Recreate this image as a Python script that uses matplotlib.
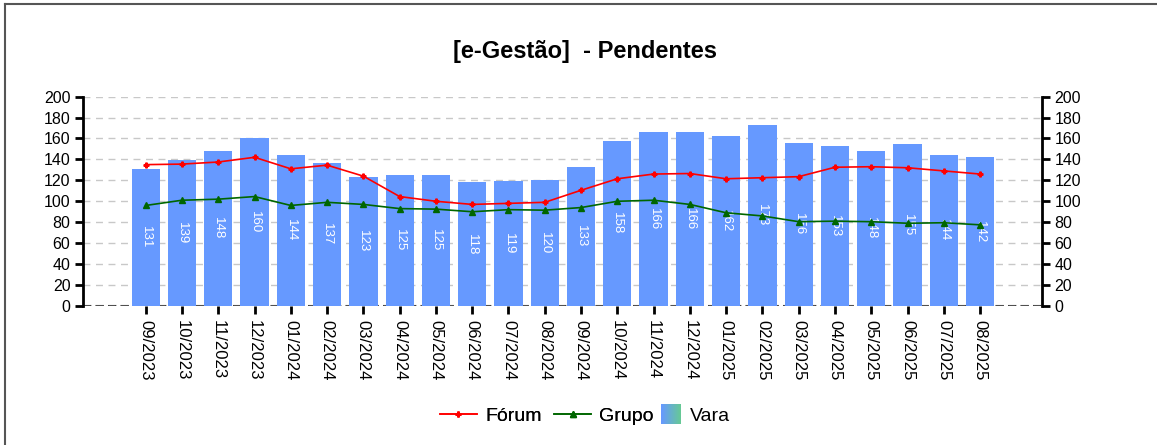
import numpy as np
import matplotlib
matplotlib.use("Agg")
import matplotlib.pyplot as plt
from matplotlib.legend_handler import HandlerBase
from matplotlib.patches import Rectangle
from matplotlib.lines import Line2D
import matplotlib.colors as mcolors

plt.rcParams['font.family'] = ['Liberation Sans', 'DejaVu Sans']

# ---------------------------------------------------------
# Daten
# ---------------------------------------------------------
meses = ["09/2023", "10/2023", "11/2023", "12/2023", "01/2024", "02/2024",
         "03/2024", "04/2024", "05/2024", "06/2024", "07/2024", "08/2024",
         "09/2024", "10/2024", "11/2024", "12/2024", "01/2025", "02/2025",
         "03/2025", "04/2025", "05/2025", "06/2025", "07/2025", "08/2025"]

vara = [131, 139, 148, 160, 144, 137, 123, 125, 125, 118, 119, 120,
        133, 158, 166, 166, 162, 173, 156, 153, 148, 155, 144, 142]

forum = [135, 135.5, 137.5, 142, 131, 134.5, 124, 104.5, 100, 97, 98, 99,
         110.5, 121.5, 126, 126.5, 121.5, 122.5, 123.5, 132.5, 133, 132, 129, 126]

grupo = [96, 101, 102, 104.5, 96, 99, 97, 93, 92.5, 90, 92, 91.5,
         94, 100, 101, 97, 89, 86, 80.5, 81, 80.5, 79, 79.5, 77.5]

bar_color = "#6699FF"


class GradientHandler(HandlerBase):
    """Legend-Patch mit Farbverlauf blau -> grün"""
    def create_artists(self, legend, orig_handle, xdescent, ydescent,
                       width, height, fontsize, trans):
        c1 = np.array(mcolors.to_rgb("#6699FF"))
        c2 = np.array(mcolors.to_rgb("#66C896"))
        n = 20
        h = height * 1.45
        y0 = -ydescent - (h - height) / 2
        x0 = -xdescent
        arts = []
        for i in range(n):
            c = c1 + (c2 - c1) * i / (n - 1)
            r = Rectangle((x0 + width * i / n, y0), width / n + 0.3, h,
                          facecolor=c, edgecolor="none", transform=trans)
            arts.append(r)
        return arts


fig = plt.figure(figsize=(11.57, 4.45), dpi=100)
ax = fig.add_axes([0.0717, 0.3124, 0.829, 0.4706])

x = np.arange(len(meses))
bars = ax.bar(x, vara, width=0.78, color=bar_color, zorder=2)
ax.bar_label(bars, labels=[str(v) for v in vara], label_type="center",
             rotation=-90, color="white", fontsize=9.5)

l1, = ax.plot(x, forum, color="#FF0000", lw=1.2, marker="P", ms=3.5, zorder=3)
l2, = ax.plot(x, grupo, color="#006600", lw=1.2, marker="^", ms=4, zorder=3)

ax.set_xlim(-1.73, 24.71)
ax.set_ylim(0, 200)
ax.set_yticks(np.arange(0, 201, 20))
ax.yaxis.grid(True, color="#C8C8C8", linestyle=(0, (5, 4)), lw=1, zorder=0)
ax.axhline(0, color="#333333", lw=1.5, linestyle=(0, (4, 2)), zorder=1)

ax.set_xticks(x)
ax.set_xticklabels(meses, rotation=-90, fontsize=12)
ax.tick_params(axis="x", length=6, width=2, color="black", pad=4)
ax.tick_params(axis="y", length=6, width=2, color="black", labelsize=11.5, pad=3)

for s in ["top", "bottom", "right"]:
    ax.spines[s].set_visible(False)
ax.spines["left"].set_linewidth(2)

ax2 = ax.twinx()
ax2.set_ylim(0, 200)
ax2.set_yticks(np.arange(0, 201, 20))
ax2.tick_params(axis="y", length=6, width=2, color="black", labelsize=11.5, pad=3)
for s in ["top", "bottom", "left"]:
    ax2.spines[s].set_visible(False)
ax2.spines["right"].set_linewidth(2)

fig.text(0.506, 0.885, "[e-Gestão]  - Pendentes", ha="center", va="center",
         fontsize=17, fontweight="bold")

# Legende in zwei Teilen (Linien / Balken), damit die Abstände passen
leg1 = fig.legend([l1, l2], ["Fórum", "Grupo"], loc="center left",
                  bbox_to_anchor=(440 / 1157, 0.065), ncol=2, frameon=False,
                  fontsize=14, handlelength=1.9, columnspacing=0.67,
                  handletextpad=0.41, borderpad=0, borderaxespad=0)
vara_handle = Rectangle((0, 0), 1, 1)
fig.legend([vara_handle], ["Vara"], handler_map={Rectangle: GradientHandler()},
           loc="center left", bbox_to_anchor=(661 / 1157, 0.065), frameon=False,
           fontsize=14, handlelength=1.03, handletextpad=0.45,
           borderpad=0, borderaxespad=0)
fig.add_artist(leg1)

# Rahmen links und oben
fig.add_artist(Line2D([5 / 1157, 5 / 1157], [0, 1 - 4 / 445], color="#555555", lw=1.5,
                      transform=fig.transFigure))
fig.add_artist(Line2D([5 / 1157, 1], [1 - 4 / 445, 1 - 4 / 445], color="#555555", lw=1.5,
                      transform=fig.transFigure))

fig.savefig("out.png", dpi=100)
